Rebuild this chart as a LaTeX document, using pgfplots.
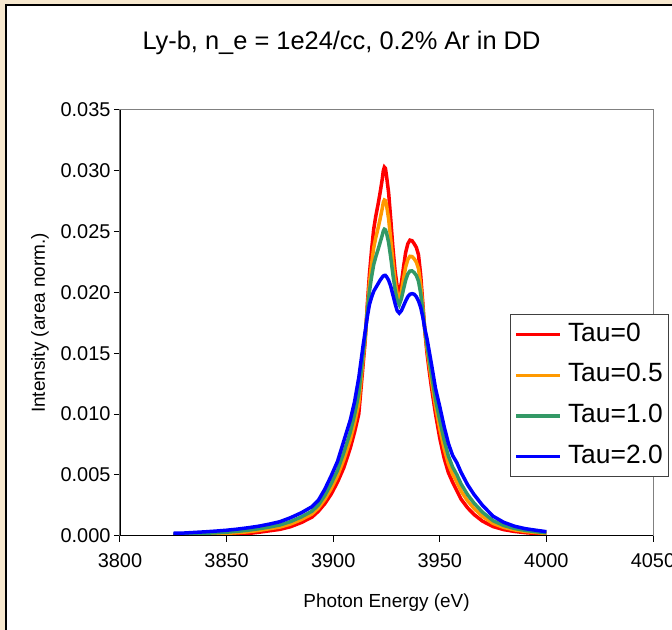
\documentclass[border=0pt]{standalone}
\usepackage{fontspec}
\setmainfont{Liberation Sans}
\usepackage{pgfplots}
\pgfplotsset{compat=1.18}
\usepackage{pgfplotstable}
\definecolor{bgbeige}{RGB}{247,232,206}
\definecolor{xlred}{RGB}{255,0,0}
\definecolor{xlorange}{RGB}{255,153,0}
\definecolor{xlgreen}{RGB}{51,153,102}
\definecolor{xlblue}{RGB}{0,0,255}
\definecolor{framegray}{RGB}{128,128,128}

\pgfplotstableread{
E R O G B
3825 0.00002 0.00007 0.00012 0.00020
3830 0.00003 0.00009 0.00014 0.00022
3835 0.00004 0.00011 0.00017 0.00027
3840 0.00005 0.00013 0.00020 0.00032
3845 0.00006 0.00016 0.00024 0.00038
3850 0.00008 0.00019 0.00029 0.00045
3855 0.00012 0.00025 0.00036 0.00054
3860 0.00018 0.00032 0.00045 0.00065
3865 0.00028 0.00043 0.00057 0.00078
3870 0.00040 0.00057 0.00071 0.00095
3875 0.00052 0.00071 0.00088 0.00115
3880 0.00074 0.00096 0.00116 0.00148
3885 0.00108 0.00132 0.00154 0.00188
3890 0.00152 0.00178 0.00201 0.00238
3893 0.00200 0.00227 0.00251 0.00290
3896 0.00262 0.00297 0.00329 0.00380
3899 0.00340 0.00385 0.00426 0.00490
3902 0.00440 0.00491 0.00537 0.00610
3905 0.00560 0.00626 0.00685 0.00780
3908 0.00720 0.00789 0.00851 0.00950
3910 0.00850 0.00925 0.00993 0.01100
3912 0.01000 0.01090 0.01171 0.01300
3914 0.01400 0.01448 0.01491 0.01560
3915 0.01600 0.01624 0.01646 0.01680
3916 0.01900 0.01870 0.01843 0.01800
3917 0.02150 0.02075 0.02008 0.01900
3918 0.02350 0.02233 0.02128 0.01960
3919 0.02520 0.02367 0.02229 0.02010
3920 0.02630 0.02453 0.02294 0.02040
3921 0.02720 0.02525 0.02350 0.02070
3922 0.02820 0.02604 0.02410 0.02100
3923 0.02930 0.02690 0.02470 0.02125
3923.5 0.03000 0.02740 0.02505 0.02135
3924 0.03030 0.02760 0.02520 0.02140
3924.5 0.03020 0.02755 0.02515 0.02140
3925 0.02960 0.02720 0.02490 0.02130
3926 0.02820 0.02604 0.02410 0.02100
3927 0.02600 0.02435 0.02287 0.02050
3928 0.02370 0.02253 0.02148 0.01980
3929 0.02180 0.02099 0.02026 0.01910
3930 0.02050 0.01990 0.01936 0.01850
3931 0.01990 0.01942 0.01899 0.01830
3932 0.02080 0.02011 0.01949 0.01850
3933 0.02210 0.02114 0.02028 0.01890
3934 0.02330 0.02210 0.02102 0.01930
3935 0.02400 0.02270 0.02152 0.01965
3936 0.02430 0.02297 0.02176 0.01985
3937 0.02425 0.02295 0.02177 0.01990
3938 0.02400 0.02276 0.02163 0.01985
3939 0.02370 0.02249 0.02139 0.01965
3940 0.02310 0.02196 0.02093 0.01930
3941 0.02150 0.02069 0.01996 0.01880
3942 0.01920 0.01884 0.01852 0.01800
3943 0.01680 0.01686 0.01691 0.01700
3944 0.01500 0.01536 0.01568 0.01620
3945 0.01360 0.01408 0.01451 0.01520
3946 0.01230 0.01287 0.01338 0.01420
3948 0.01000 0.01063 0.01120 0.01210
3950 0.00800 0.00878 0.00948 0.01060
3952 0.00640 0.00718 0.00788 0.00900
3954 0.00520 0.00592 0.00657 0.00760
3956 0.00440 0.00506 0.00565 0.00660
3958 0.00370 0.00439 0.00501 0.00600
3960 0.00300 0.00366 0.00425 0.00520
3963 0.00230 0.00287 0.00338 0.00420
3966 0.00175 0.00225 0.00269 0.00340
3970 0.00120 0.00159 0.00194 0.00250
3975 0.00075 0.00101 0.00123 0.00160
3980 0.00050 0.00068 0.00084 0.00110
3985 0.00035 0.00048 0.00060 0.00078
3990 0.00025 0.00035 0.00044 0.00058
3995 0.00018 0.00026 0.00033 0.00045
4000 0.00012 0.00018 0.00024 0.00033
}\spectra

\begin{document}
\begin{tikzpicture}
\path[use as bounding box] (-120bp,-94.3bp) rectangle (552bp,535.7bp);
\clip (-120bp,-94.3bp) rectangle (552bp,535.7bp);
\fill[bgbeige] (-120bp,-94.3bp) rectangle (552bp,535.7bp);
\filldraw[fill=white, draw=black, line width=1.3bp] (-114bp,-110bp) rectangle (570bp,530.7bp);
\node[anchor=base, font=\fontsize{25.5}{30}\selectfont] at (221.5bp,485.7bp) {Ly-b, n\_e = 1e24/cc, 0.2\% Ar in DD};
\begin{axis}[
  at={(0,0)}, anchor=south west,
  scale only axis, width=533bp, height=425.7bp,
  xmin=3800, xmax=4050, ymin=0, ymax=0.035,
  xtick={3800,3850,3900,3950,4000,4050},
  ytick={0,0.005,0.01,0.015,0.02,0.025,0.03,0.035},
  axis line style={framegray, line width=1bp},
  tick pos=left, tick align=outside, major tick length=6bp,
  tick style={black, line width=1bp},
  /pgf/number format/assume math mode=true,
  tick label style={font=\fontsize{20}{24}\selectfont},
  xticklabel style={/pgf/number format/set thousands separator={}, yshift=-8bp},
  scaled y ticks=false,
  yticklabel style={/pgf/number format/.cd, fixed, fixed zerofill, precision=3},
  xlabel={Photon Energy (eV)},
  xlabel style={at={(axis description cs:0.5,-0.1675)}, anchor=base, font=\fontsize{19}{22}\selectfont},
  ylabel={Intensity (area norm.)},
  ylabel style={at={(axis description cs:-0.1501,0.5)}, anchor=center, font=\fontsize{19}{22}\selectfont},
  legend cell align=left,
  legend style={at={(0.7317,0.5208)}, anchor=north west, draw=black!75, line width=1bp, fill=white,
    font=\fontsize{26.5}{30}\selectfont, inner xsep=4bp, inner ysep=6.6bp, row sep=13.7bp, column sep=4bp,
    nodes={inner sep=2bp, text height=18bp, text depth=5bp}},
  legend image code/.code={\draw[#1] (0bp,0bp) -- (44bp,0bp);},
]
\addplot[xlred, line width=3.5bp] table[x=E,y=R]{\spectra};
\addplot[xlorange, line width=3.5bp] table[x=E,y=O]{\spectra};
\addplot[xlgreen, line width=3.5bp] table[x=E,y=G]{\spectra};
\addplot[xlblue, line width=3.5bp] table[x=E,y=B]{\spectra};
\draw[black, line width=1.2bp] (rel axis cs:0,1) -- (rel axis cs:0,0) -- (rel axis cs:1,0);
\legend{Tau=0, Tau=0.5, Tau=1.0, Tau=2.0}
\end{axis}
\end{tikzpicture}
\end{document}
